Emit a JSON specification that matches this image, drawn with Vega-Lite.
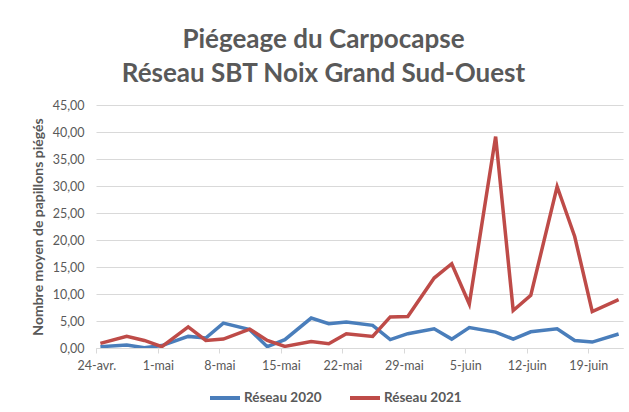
{
  "$schema": "https://vega.github.io/schema/vega-lite/v6.json",
  "width": 527,
  "height": 243,
  "autosize": {"type": "none"},
  "padding": {"left": 96, "top": 105, "right": 6, "bottom": 64},
  "background": "white",
  "title": {
    "text": ["Piégeage du Carpocapse", "Réseau SBT Noix Grand Sud-Ouest"],
    "font": "Lato",
    "fontSize": 26,
    "fontWeight": "bold",
    "color": "#595959",
    "lineHeight": 34,
    "anchor": "middle",
    "frame": "group",
    "dx": -36,
    "offset": 12
  },
  "data": {
    "values": [
      {"date": "2021-04-24", "serie": "Réseau 2020", "valeur": 0.25},
      {"date": "2021-04-27", "serie": "Réseau 2020", "valeur": 0.55},
      {"date": "2021-04-29", "serie": "Réseau 2020", "valeur": 0.05},
      {"date": "2021-05-01", "serie": "Réseau 2020", "valeur": 0.45},
      {"date": "2021-05-04", "serie": "Réseau 2020", "valeur": 2.15},
      {"date": "2021-05-06", "serie": "Réseau 2020", "valeur": 1.85},
      {"date": "2021-05-08", "serie": "Réseau 2020", "valeur": 4.6},
      {"date": "2021-05-11", "serie": "Réseau 2020", "valeur": 3.4},
      {"date": "2021-05-13", "serie": "Réseau 2020", "valeur": 0.25},
      {"date": "2021-05-15", "serie": "Réseau 2020", "valeur": 1.55},
      {"date": "2021-05-18", "serie": "Réseau 2020", "valeur": 5.55},
      {"date": "2021-05-20", "serie": "Réseau 2020", "valeur": 4.5},
      {"date": "2021-05-22", "serie": "Réseau 2020", "valeur": 4.8},
      {"date": "2021-05-25", "serie": "Réseau 2020", "valeur": 4.2},
      {"date": "2021-05-27", "serie": "Réseau 2020", "valeur": 1.55},
      {"date": "2021-05-29", "serie": "Réseau 2020", "valeur": 2.65},
      {"date": "2021-06-01", "serie": "Réseau 2020", "valeur": 3.55},
      {"date": "2021-06-03", "serie": "Réseau 2020", "valeur": 1.65},
      {"date": "2021-06-05", "serie": "Réseau 2020", "valeur": 3.8},
      {"date": "2021-06-08", "serie": "Réseau 2020", "valeur": 2.95},
      {"date": "2021-06-10", "serie": "Réseau 2020", "valeur": 1.65},
      {"date": "2021-06-12", "serie": "Réseau 2020", "valeur": 3.0},
      {"date": "2021-06-15", "serie": "Réseau 2020", "valeur": 3.55},
      {"date": "2021-06-17", "serie": "Réseau 2020", "valeur": 1.4},
      {"date": "2021-06-19", "serie": "Réseau 2020", "valeur": 1.1},
      {"date": "2021-06-22", "serie": "Réseau 2020", "valeur": 2.6},
      {"date": "2021-04-24", "serie": "Réseau 2021", "valeur": 0.85},
      {"date": "2021-04-27", "serie": "Réseau 2021", "valeur": 2.15},
      {"date": "2021-04-29", "serie": "Réseau 2021", "valeur": 1.4},
      {"date": "2021-05-01", "serie": "Réseau 2021", "valeur": 0.25},
      {"date": "2021-05-04", "serie": "Réseau 2021", "valeur": 3.9},
      {"date": "2021-05-06", "serie": "Réseau 2021", "valeur": 1.4},
      {"date": "2021-05-08", "serie": "Réseau 2021", "valeur": 1.65},
      {"date": "2021-05-11", "serie": "Réseau 2021", "valeur": 3.5},
      {"date": "2021-05-13", "serie": "Réseau 2021", "valeur": 1.4},
      {"date": "2021-05-15", "serie": "Réseau 2021", "valeur": 0.3},
      {"date": "2021-05-18", "serie": "Réseau 2021", "valeur": 1.2},
      {"date": "2021-05-20", "serie": "Réseau 2021", "valeur": 0.8},
      {"date": "2021-05-22", "serie": "Réseau 2021", "valeur": 2.65},
      {"date": "2021-05-25", "serie": "Réseau 2021", "valeur": 2.15},
      {"date": "2021-05-27", "serie": "Réseau 2021", "valeur": 5.75},
      {"date": "2021-05-29", "serie": "Réseau 2021", "valeur": 5.85},
      {"date": "2021-06-01", "serie": "Réseau 2021", "valeur": 12.95},
      {"date": "2021-06-03", "serie": "Réseau 2021", "valeur": 15.6},
      {"date": "2021-06-05", "serie": "Réseau 2021", "valeur": 8.15},
      {"date": "2021-06-08", "serie": "Réseau 2021", "valeur": 39.15},
      {"date": "2021-06-10", "serie": "Réseau 2021", "valeur": 6.95},
      {"date": "2021-06-12", "serie": "Réseau 2021", "valeur": 9.75},
      {"date": "2021-06-15", "serie": "Réseau 2021", "valeur": 29.9},
      {"date": "2021-06-17", "serie": "Réseau 2021", "valeur": 20.65},
      {"date": "2021-06-19", "serie": "Réseau 2021", "valeur": 6.75},
      {"date": "2021-06-22", "serie": "Réseau 2021", "valeur": 8.95}
    ]
  },
  "mark": {"type": "line", "strokeWidth": 3.5, "strokeJoin": "miter", "clip": true},
  "encoding": {
    "x": {
      "field": "date",
      "type": "temporal",
      "scale": {"type": "utc", "domain": [1619179200000, 1624363200000]},
      "axis": {
        "title": null,
        "values": [1619222400000, 1619827200000, 1620432000000, 1621036800000, 1621641600000, 1622246400000, 1622851200000, 1623456000000, 1624060800000],
        "labelExpr": "utcdate(datum.value) + '-' + ['janv.','févr.','mars','avr.','mai','juin','juil.'][utcmonth(datum.value)]",
        "grid": false,
        "domainColor": "#D9D9D9",
        "domainWidth": 1,
        "tickColor": "#D9D9D9",
        "tickSize": 5,
        "tickOffset": -4,
        "labelPadding": 6,
        "labelFont": "Lato",
        "labelFontSize": 12.5,
        "labelColor": "#595959",
        "labelFlush": false,
        "labelOverlap": false
      }
    },
    "y": {
      "field": "valeur",
      "type": "quantitative",
      "scale": {"domain": [0, 45], "nice": false, "zero": true},
      "axis": {
        "title": "Nombre moyen de papillons piégés",
        "values": [0, 5, 10, 15, 20, 25, 30, 35, 40, 45],
        "labelExpr": "replace(format(datum.value, '.2f'), '.', ',')",
        "domain": false,
        "ticks": false,
        "gridColor": "#D9D9D9",
        "gridWidth": 1,
        "labelPadding": 12,
        "labelFont": "Lato",
        "labelFontSize": 12.5,
        "labelColor": "#595959",
        "titleFont": "Lato",
        "titleFontSize": 14,
        "titleFontWeight": "bold",
        "titleColor": "#595959",
        "titlePadding": 7
      }
    },
    "color": {
      "field": "serie",
      "type": "nominal",
      "scale": {"domain": ["Réseau 2020", "Réseau 2021"], "range": ["#4A7EBB", "#BE4B48"]},
      "legend": {
        "title": null,
        "orient": "none",
        "direction": "horizontal",
        "legendX": 112,
        "legendY": 276,
        "symbolType": "stroke",
        "symbolSize": 900,
        "symbolStrokeWidth": 4,
        "labelFont": "Lato",
        "labelFontSize": 13.5,
        "labelFontWeight": "bold",
        "labelColor": "#595959",
        "labelOffset": 2,
        "columnPadding": 20
      }
    }
  },
  "config": {"view": {"stroke": null}}
}
